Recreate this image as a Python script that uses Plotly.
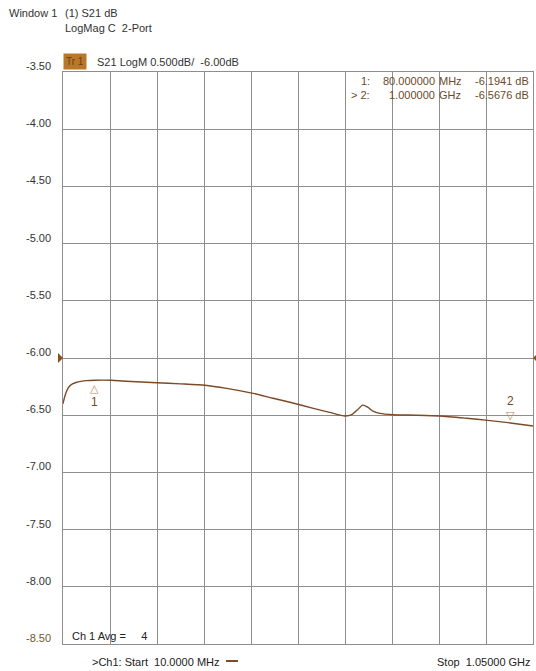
import plotly.graph_objects as go

# S21 trace (frequency in MHz, magnitude in dB)
freq_mhz = [10, 13, 17, 21, 26, 32, 40, 50, 62, 80, 100, 118, 150, 217, 270, 324,
            372, 431, 475, 512, 564, 600, 634, 649, 661, 673, 684, 696, 711, 741,
            790, 844, 903, 950, 1000, 1050]
s21_db = [-6.40, -6.35, -6.30, -6.265, -6.24, -6.225, -6.212, -6.204, -6.198, -6.1941,
          -6.193, -6.195, -6.203, -6.216, -6.226, -6.238, -6.265, -6.309, -6.352,
          -6.387, -6.44, -6.475, -6.507, -6.495, -6.455, -6.412, -6.430, -6.465,
          -6.484, -6.496, -6.500, -6.507, -6.527, -6.545, -6.5676, -6.594]

# markers
marker_freq = [80, 1000]
marker_db = [-6.1941, -6.5676]
marker_freq_text = ["80.000000", "1.000000"]
marker_unit = ["MHz", "GHz"]
marker_id = ["1:", "> 2:"]

# axis scale
y_ticks = [-3.5, -4.0, -4.5, -5.0, -5.5, -6.0, -6.5, -7.0, -7.5, -8.0, -8.5]
ref_level = -6.00
f_start, f_stop = 10, 1050

TRACE = "#7b4a26"
MARK = "#b8895a"
TXT = "#6b4a28"
GRID = "#8e8e8e"
FONT = "Liberation Sans"
NB = "&nbsp;"

# plot area in pixels: left 63, right 533, top 72, bottom 644
L, R, T, B, H = 63, 533, 72, 644, 671


def px(x):
    return (x - L) / (R - L)


def py(y):
    return (B - y) / (B - T)


fig = go.Figure()
fig.add_trace(go.Scatter(
    x=freq_mhz, y=s21_db, mode="lines",
    line=dict(color=TRACE, width=1.4, shape="spline", smoothing=0.6),
    hoverinfo="skip", showlegend=False))

fig.update_layout(
    width=536, height=671,
    margin=dict(l=L, r=536 - R, t=T, b=H - B),
    paper_bgcolor="white", plot_bgcolor="white",
    font=dict(family=FONT, size=11, color="#333333"),
    xaxis=dict(range=[f_start, f_stop], tick0=f_start, dtick=(f_stop - f_start) / 10,
               showgrid=True, gridcolor=GRID, gridwidth=1, zeroline=False,
               showticklabels=False, ticks="", showline=True, linecolor=GRID,
               linewidth=1, mirror=True),
    yaxis=dict(range=[-8.5, -3.5], tick0=-8.5, dtick=0.5,
               showgrid=True, gridcolor=GRID, gridwidth=1, zeroline=False,
               showticklabels=False, ticks="", showline=True, linecolor=GRID,
               linewidth=1, mirror=True),
)

ann = []
# scale labels, sitting just above each graticule line
for v in y_ticks:
    ann.append(dict(x=0, xref="paper", y=v, yref="y", xanchor="right", yanchor="middle",
                    text=f"{v:.2f}", showarrow=False, yshift=6, xshift=-10,
                    font=dict(size=11, color="#6e5a2e" if v == -8.5 else "#333333")))

# header
ann += [
    dict(x=px(7), y=py(13), text="Window 1", xanchor="left"),
    dict(x=px(63), y=py(13), text="(1) S21 dB", xanchor="left"),
    dict(x=px(63), y=py(28), text=f"LogMag C{NB}{NB}2-Port", xanchor="left"),
    dict(x=px(95), y=py(62), text=f"S21 LogM 0.500dB/{NB}{NB}-6.00dB", xanchor="left"),
    dict(x=px(63), y=py(62), text=f"Tr{NB}1", xanchor="left", bgcolor="#b9772a",
         font=dict(color="#6b3e12", size=10), borderpad=2),
]
for a in ann[len(y_ticks):]:
    a.update(xref="paper", yref="paper", yanchor="middle", showarrow=False)

# marker readout table
for i in range(2):
    yp = py(81 + 14 * i)
    common = dict(xref="paper", yref="paper", y=yp, yanchor="middle", showarrow=False,
                  font=dict(color=TXT))
    ann += [
        dict(x=px(372), text=marker_id[i], xanchor="right", **common),
        dict(x=px(437), text=marker_freq_text[i], xanchor="right", **common),
        dict(x=px(437), text=marker_unit[i], xanchor="left", **common),
        dict(x=px(531), text=f"{marker_db[i]:.4f} dB", xanchor="right", **common),
    ]

# marker symbols on the trace
ann += [
    dict(x=marker_freq[0], y=marker_db[0], text="△", showarrow=False, yanchor="top",
         yshift=0, font=dict(color=MARK, size=11, family="DejaVu Sans")),
    dict(x=marker_freq[0], y=marker_db[0], text="1", showarrow=False, yanchor="top",
         yshift=-13, font=dict(color=TXT, size=12)),
    dict(x=marker_freq[1], y=marker_db[1], text="▽", showarrow=False, yanchor="bottom",
         yshift=-1, font=dict(color=MARK, size=11, family="DejaVu Sans")),
    dict(x=marker_freq[1], y=marker_db[1], text="2", showarrow=False, yanchor="bottom",
         yshift=13, font=dict(color=TXT, size=12)),
]

# footer
foot = dict(xref="paper", yref="paper", showarrow=False, yanchor="middle",
            font=dict(color="#222222"))
ann += [
    dict(x=px(70), y=py(636), text=f"Ch 1 Avg ={NB}{NB}{NB}{NB}{NB}4", xanchor="left",
         **foot),
    dict(x=px(90), y=py(662), text=f"&gt;Ch1: Start{NB}{NB}10.0000 MHz", xanchor="left",
         **foot),
    dict(x=1, y=py(662), text=f"Stop{NB}{NB}1.05000 GHz", xanchor="right", **foot),
]
fig.update_layout(annotations=ann)

# reference level pointers on both edges of the graticule
PTR = "#8a4f1c"
fig.add_shape(type="path", xref="paper", yref="y", xsizemode="pixel", ysizemode="pixel",
              xanchor=0, yanchor=ref_level, path="M -5,-5 L 0,0 L -5,5 Z",
              fillcolor=PTR, line=dict(color=PTR, width=0))
fig.add_shape(type="path", xref="paper", yref="y", xsizemode="pixel", ysizemode="pixel",
              xanchor=1, yanchor=ref_level, path="M 0,0 L 5,-5 L 5,5 Z",
              fillcolor=PTR, line=dict(color=PTR, width=0))

# short trace-colour dash after the start frequency
fig.add_shape(type="line", xref="paper", yref="paper",
              x0=px(226), x1=px(238), y0=py(661), y1=py(661),
              line=dict(color=TRACE, width=2))

fig.write_html("out.html")
